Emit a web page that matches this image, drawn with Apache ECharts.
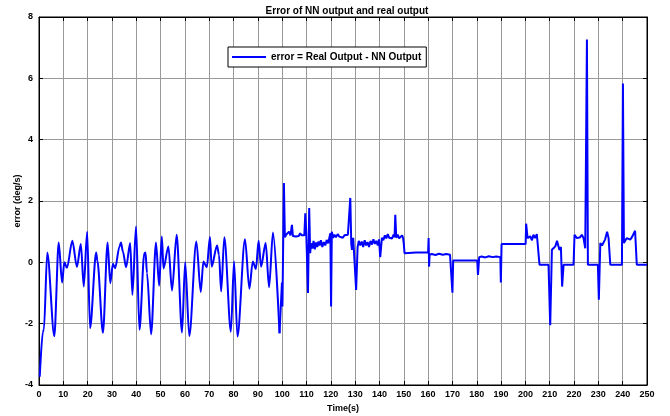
<!DOCTYPE html>
<html style="height: 100%;">
<head>
    <meta charset="UTF-8">
    <script src="https://cdn.jsdelivr.net/npm/echarts/dist/echarts.min.js"></script>
</head>
<body style="height: 100%; margin: 0; background: #fff;">
    <div id="chart" style="width: 670px; height: 416px;"></div>

    <script type="text/javascript">
        // oscillating part, 0 - 99 s  [time, error]
        var oscPoints = [
            [0.3, -3.73], [1.6, -2.26], [2.0, -2.2], [3.4, 0.32], [6.3, -2.41], [8.1, 0.65],
            [9.5, -0.66], [10.4, 0.0], [11.5, -0.18], [13.7, 0.7], [15.6, -0.15], [17.2, 0.6],
            [18.4, -0.79], [19.8, 1.0], [21.0, -2.15], [23.5, 0.32], [24.0, 0.05], [26.3, -2.3],
            [28.2, 0.65], [29.3, -0.68], [30.4, -0.05], [31.3, -0.19], [33.1, 0.52], [33.7, 0.65],
            [34.5, 0.35], [35.8, -0.16], [37.5, 0.63], [38.4, -1.06], [39.9, 1.17], [41.3, -2.2],
            [43.3, 0.3], [43.8, 0.32], [44.4, -0.35], [46.1, -2.35], [48.1, 0.65], [49.4, -0.76],
            [50.5, 0.84], [51.2, -0.2], [53.2, 0.52], [54.7, -0.92], [56.6, 0.9], [58.8, -2.29],
            [60.1, 0.0], [61.8, -2.4], [64.7, 0.68], [66.5, -0.97], [67.6, 0.03], [69.0, -0.16],
            [70.3, 0.83], [71.0, -0.14], [73.2, 0.55], [74.0, 0.25], [74.9, -0.95], [76.2, 0.82],
            [78.9, -2.26], [80.2, 0.03], [81.6, -2.42], [84.7, 0.75], [86.5, -0.86], [87.9, 0.03],
            [89.2, -0.22], [90.3, 0.7], [91.3, -0.14], [93.2, 0.63], [94.6, -0.81], [96.2, 0.97],
            [98.9, -2.31]
        ];

        // noisy / step part, 99 - 250 s
        var stepPoints = [
            [98.9, -2.31], [99.9, -0.66], [100.1, -1.44], [100.7, 2.59], [101.1, 0.82],
            [101.6, 0.9], [102.2, 0.85], [102.8, 1.0], [103.4, 0.88], [104.0, 1.22], [104.4, 0.86],
            [105.0, 0.92], [105.6, 0.84], [106.2, 0.9], [106.8, 0.86], [107.4, 0.95], [108.0, 0.88],
            [108.6, 0.93], [109.1, 0.88], [109.5, 1.6], [109.9, 0.95], [110.6, -1.0], [111.1, 1.77],
            [111.5, 0.3], [111.9, 0.62], [112.4, 0.45], [112.9, 0.7], [113.4, 0.42], [113.9, 0.65],
            [114.4, 0.5], [114.9, 0.68], [115.4, 0.55], [115.9, 0.72], [116.5, 0.5], [117.1, 0.66],
            [117.7, 0.55], [118.3, 0.73], [118.9, 0.62], [119.4, 0.8], [119.8, 0.95], [120.1, -1.44],
            [120.4, 1.0], [120.9, 0.8], [121.5, 0.9], [122.1, 0.82], [122.8, 0.92], [123.5, 0.84],
            [124.2, 0.9], [124.9, 0.8], [125.6, 0.88], [126.3, 0.84], [127.0, 0.9], [127.6, 0.85],
            [128.0, 2.1], [128.4, 0.6], [128.7, 0.41], [129.2, 0.8], [129.8, 0.85], [130.4, -0.9],
            [131.0, 0.5], [131.5, 0.7], [132.1, 0.55], [132.7, 0.68], [133.3, 0.5], [133.9, 0.72],
            [134.5, 0.55], [135.1, 0.66], [135.7, 0.5], [136.3, 0.7], [136.9, 0.58], [137.5, 0.75],
            [138.1, 0.6], [138.7, 0.7], [139.3, 0.55], [139.8, 0.75], [140.3, 0.17], [141.0, 0.8],
            [141.6, 0.72], [142.2, 0.88], [142.8, 0.78], [143.4, 0.92], [144.0, 0.8], [144.6, 0.86],
            [145.2, 0.78], [145.8, 0.9], [146.2, 0.82], [146.5, 1.55], [146.9, 0.8], [147.5, 0.9],
            [148.1, 0.78], [148.7, 0.84], [149.3, 0.88], [149.7, 0.8], [150.0, 0.6], [150.3, 0.3],
            [155.0, 0.32], [160.0, 0.32], [160.2, 0.79], [160.4, -0.14], [160.6, 0.25],
            [161.5, 0.27], [163.0, 0.24], [164.5, 0.28], [166.0, 0.25], [167.5, 0.27], [169.0, 0.25],
            [169.8, 0.26], [170.0, -0.99], [170.3, 0.06], [175.0, 0.06], [180.2, 0.06],
            [180.5, -0.41], [181.0, 0.17], [182.0, 0.19], [183.5, 0.16], [185.0, 0.2], [186.5, 0.17],
            [188.0, 0.19], [189.7, 0.17], [189.9, -0.66], [190.2, 0.6], [195.0, 0.6], [200.1, 0.6],
            [200.3, 1.26], [200.9, 0.79], [202.0, 0.85], [202.7, 0.72], [203.3, 0.9], [204.0, 0.79],
            [204.7, 0.92], [205.4, 0.95], [205.8, -0.08], [209.5, -0.08], [210.2, -2.05],
            [210.9, 0.41], [212.3, 0.52], [213.0, 0.7], [213.2, 0.73], [214.0, 0.4], [214.6, 0.5],
            [215.1, -0.79], [215.7, -0.08], [219.8, -0.08], [220.2, 0.9], [221.2, 0.79],
            [221.8, 0.85], [222.5, 0.82], [223.2, 0.9], [223.9, 0.79], [224.6, 0.46], [225.3, 7.27],
            [225.7, -0.08], [229.8, -0.08], [230.2, -1.22], [230.8, 0.63], [231.5, 0.55],
            [232.1, 0.6], [232.8, 0.75], [233.6, 1.0], [234.2, 0.79], [234.9, -0.08], [239.7, -0.08],
            [240.1, 5.83], [240.5, 0.63], [241.7, 0.79], [242.4, 0.75], [243.1, 0.74], [243.8, 0.82],
            [244.5, 0.79], [245.1, 1.03], [245.8, -0.08], [250.0, -0.08]
        ];

        var seriesName = 'error = Real Output - NN Output';
        var boldFont = { fontFamily: 'Liberation Sans', fontWeight: 'bold', color: '#000' };

        var chart = echarts.init(document.getElementById('chart'));

        var gridLine = { show: true, lineStyle: { color: '#999', type: 'solid', width: 1 } };

        var option = {
            backgroundColor: '#fff',
            animation: false,
            title: {
                text: 'Error of NN output and real output',
                left: 342,
                textAlign: 'center',
                top: 1,
                textStyle: Object.assign({ fontSize: 10 }, boldFont)
            },
            legend: {
                data: [{ name: seriesName, icon: 'rect' }],
                left: 228,
                top: 47,
                backgroundColor: '#fff',
                borderColor: '#000',
                borderWidth: 1,
                borderRadius: 0,
                padding: [5, 5, 5, 4],
                itemWidth: 34,
                itemHeight: 2,
                textStyle: Object.assign({ fontSize: 10 }, boldFont)
            },
            grid: {
                left: 39,
                right: 23,
                top: 17,
                bottom: 31,
                outerBoundsMode: 'none',
                show: true,
                borderColor: '#000',
                borderWidth: 1
            },
            xAxis: [
                {
                    type: 'value',
                    min: 0,
                    max: 250,
                    interval: 10,
                    name: 'Time(s)',
                    nameLocation: 'middle',
                    nameGap: 18,
                    nameTextStyle: Object.assign({ fontSize: 9 }, boldFont),
                    axisLine: { onZero: false, lineStyle: { color: '#000', width: 1 } },
                    axisTick: { inside: true, length: 4, lineStyle: { color: '#000' } },
                    axisLabel: Object.assign({ fontSize: 9, margin: 5 }, boldFont),
                    splitLine: gridLine
                },
                {
                    type: 'value',
                    position: 'top',
                    min: 0,
                    max: 250,
                    interval: 10,
                    axisLine: { onZero: false, lineStyle: { color: '#000' } },
                    axisTick: { inside: true, length: 4, lineStyle: { color: '#000' } },
                    axisLabel: { show: false },
                    splitLine: { show: false }
                }
            ],
            yAxis: [
                {
                    type: 'value',
                    min: -4,
                    max: 8,
                    interval: 2,
                    name: 'error (deg/s)',
                    nameLocation: 'middle',
                    nameGap: 17,
                    nameMoveOverlap: false,
                    nameTextStyle: Object.assign({ fontSize: 9 }, boldFont),
                    axisLine: { show: true, onZero: false, lineStyle: { color: '#000', width: 1 } },
                    axisTick: { show: true, inside: true, length: 4, lineStyle: { color: '#000' } },
                    axisLabel: Object.assign({ fontSize: 9, margin: 6 }, boldFont),
                    splitLine: gridLine
                },
                {
                    type: 'value',
                    position: 'right',
                    min: -4,
                    max: 8,
                    interval: 2,
                    axisLine: { show: true, onZero: false, lineStyle: { color: '#000' } },
                    axisTick: { show: true, inside: true, length: 4, lineStyle: { color: '#000' } },
                    axisLabel: { show: false },
                    splitLine: { show: false }
                }
            ],
            series: [
                {
                    name: seriesName,
                    type: 'line',
                    data: oscPoints,
                    smooth: 0.3,
                    smoothMonotone: 'x',
                    symbol: 'none',
                    color: '#0000ff',
                    lineStyle: { color: '#0000ff', width: 2 }
                },
                {
                    name: seriesName,
                    type: 'line',
                    data: stepPoints,
                    symbol: 'none',
                    color: '#0000ff',
                    lineStyle: { color: '#0000ff', width: 2 }
                }
            ]
        };

        chart.setOption(option);
        window.addEventListener('resize', chart.resize);
    </script>
</body>
</html>
